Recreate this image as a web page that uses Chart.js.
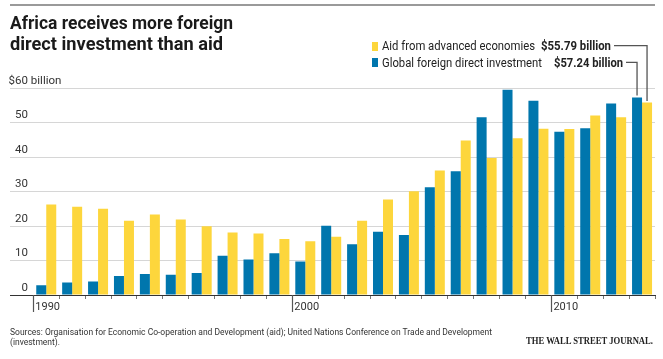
<!DOCTYPE html>
<html><head><meta charset="utf-8">
<script src="https://cdn.jsdelivr.net/npm/chart.js@4/dist/chart.umd.min.js"></script>
<style>
html,body{margin:0;padding:0;background:#fff;}
#wrap{position:relative;width:663px;height:359px;overflow:hidden;font-family:Roboto,"Liberation Sans",sans-serif;color:#333;}
#c{position:absolute;left:0;top:0;}
.t{position:absolute;white-space:nowrap;transform-origin:0 0;}
.title{font-weight:700;font-size:18.5px;line-height:21px;color:#1a1a1a;left:10px;}
.leg{font-size:12px;line-height:16px;color:#222;}
.b{font-weight:700;}
.sq{position:absolute;width:6px;height:9px;}
.src{font-size:9.5px;line-height:12px;color:#333;left:10px;}
#rule{position:absolute;left:10px;top:4px;width:645px;height:2px;background:#9a9a9a;}
#wsj{font-family:"Liberation Serif","DejaVu Serif",serif;font-weight:700;font-size:10px;line-height:12px;color:#222;}
</style></head>
<body><div id="wrap">
<canvas id="c" width="663" height="359"></canvas>
<div id="rule"></div>
<div class="t title" style="top:13px" data-w="223">Africa receives more foreign</div>
<div class="t title" style="top:34px" data-w="213">direct investment than aid</div>
<div class="sq" style="left:372px;top:41.5px;background:#fdd63c"></div>
<div class="sq" style="left:372px;top:58px;background:#0076ad"></div>
<div class="t leg" style="left:382px;top:37.9px" data-w="153">Aid from advanced economies</div>
<div class="t leg b" style="left:540.7px;top:37.9px" data-w="70">$55.79 billion</div>
<div class="t leg" style="left:382px;top:54.6px" data-w="160">Global foreign direct investment</div>
<div class="t leg b" style="left:554px;top:54.6px" data-w="69">$57.24 billion</div>
<div class="t src" id="src1" style="top:326px" data-w="482">Sources: Organisation for Economic Co-operation and Development (aid); United Nations Conference on Trade and Development</div>
<div class="t src" id="src2" style="top:336px">(investment).</div>
<div class="t" id="wsj" style="left:526px;top:335px" data-w="127">THE WALL STREET JOURNAL.</div>
</div>
<script>
const years = [1990,1991,1992,1993,1994,1995,1996,1997,1998,1999,2000,2001,2002,2003,2004,2005,2006,2007,2008,2009,2010,2011,2012,2013];
const fdi = [2.8,3.6,3.9,5.5,6.1,5.9,6.4,11.4,10.3,12.1,9.7,20.1,14.7,18.3,17.4,31.2,35.9,51.5,59.5,56.3,47.3,48.3,55.5,57.24];
const aid = [26.2,25.6,25.0,21.5,23.3,21.9,19.9,18.1,17.8,16.2,15.6,16.9,21.5,27.7,30.1,36.1,44.8,39.7,45.4,48.2,48.1,52.0,51.5,55.79];
const yTicks = [0,10,20,30,40,50,60];
const decades = [1990,2000,2010];
const BLUE = '#0076ad', YELLOW = '#fdd63c';

const overlay = {
  id: 'overlay',
  afterDraw(chart) {
    const {ctx, scales: {x, y}} = chart;
    const base = y.getPixelForValue(0);
    ctx.save();
    ctx.strokeStyle = '#555'; ctx.lineWidth = 1.2;
    decades.forEach(d => {
      const px = Math.round(x.getPixelForValue(d)) + 0.5;
      ctx.beginPath(); ctx.moveTo(px, base); ctx.lineTo(px, base + 17); ctx.stroke();
    });
    const top = yTicks[yTicks.length - 1];
    const yy = y.getPixelForValue(top) + y.options.ticks.labelOffset;
    const labelRight = y.right - y.options.grid.tickLength - y.options.ticks.padding;
    ctx.font = '11.5px Roboto'; ctx.fillStyle = '#333'; ctx.textBaseline = 'middle';
    const w = ctx.measureText(String(top)).width;
    ctx.textAlign = 'right'; ctx.fillText('$', labelRight - w, yy);
    ctx.textAlign = 'left'; ctx.fillText(' billion', labelRight, yy);
    const n = years.length - 1;
    const aidBar = chart.getDatasetMeta(1).data[n];
    const fdiBar = chart.getDatasetMeta(0).data[n];
    ctx.strokeStyle = '#555'; ctx.lineWidth = 1.3;
    ctx.beginPath(); ctx.moveTo(614, 45.7); ctx.lineTo(aidBar.x, 45.7); ctx.lineTo(aidBar.x, aidBar.y - 1.5); ctx.stroke();
    ctx.beginPath(); ctx.moveTo(626, 62.3); ctx.lineTo(fdiBar.x, 62.3); ctx.lineTo(fdiBar.x, fdiBar.y - 2); ctx.stroke();
    ctx.restore();
  }
};

new Chart(document.getElementById('c'), {
  type: 'bar',
  data: {
    datasets: [
      {label: 'Global foreign direct investment', data: years.map((yr, i) => ({x: yr + 0.5, y: fdi[i]})), backgroundColor: BLUE},
      {label: 'Aid from advanced economies', data: years.map((yr, i) => ({x: yr + 0.5, y: aid[i]})), backgroundColor: YELLOW}
    ]
  },
  options: {
    responsive: false,
    animation: false,
    layout: {padding: {left: 10, right: 8, top: 88, bottom: 44}},
    datasets: {bar: {categoryPercentage: 0.772, barPercentage: 1.0}},
    plugins: {legend: {display: false}, title: {display: false}, tooltip: {enabled: false}},
    scales: {
      x: {
        type: 'linear', min: 1990, max: 2014, offset: false,
        afterFit: s => { s.height = 20; },
        ticks: {stepSize: 1, autoSkip: false, maxRotation: 0, align: 'start', labelOffset: 2, padding: 2,
          color: '#333', font: {family: 'Roboto', size: 11},
          callback: v => decades.includes(v) ? String(v) : ''},
        grid: {drawOnChartArea: false, offset: false, tickLength: 4, tickColor: '#777', tickWidth: 1},
        border: {display: true, color: '#333', width: 1}
      },
      y: {
        min: 0, max: 60,
        afterFit: s => { s.width = 23.3; },
        ticks: {stepSize: 10, padding: -18, labelOffset: -7, color: '#333', font: {family: 'Roboto', size: 11.5},
          callback: v => String(v)},
        grid: {color: c => c.tick && c.tick.value === 0 ? '#333' : '#d6d6d6', lineWidth: 1, tickLength: 23.3, drawTicks: true},
        border: {display: false}
      }
    }
  },
  plugins: [overlay]
});

function fit() {
  let srcScale = 1;
  document.querySelectorAll('[data-w]').forEach(el => {
    el.style.transform = 'none';
    const w = el.getBoundingClientRect().width;
    const s = parseFloat(el.dataset.w) / w;
    el.style.transform = 'scaleX(' + s + ')';
    if (el.id === 'src1') srcScale = s;
  });
  document.getElementById('src2').style.transform = 'scaleX(' + srcScale + ')';
}
fit();
if (document.fonts && document.fonts.ready) document.fonts.ready.then(fit);
</script>
</body></html>
